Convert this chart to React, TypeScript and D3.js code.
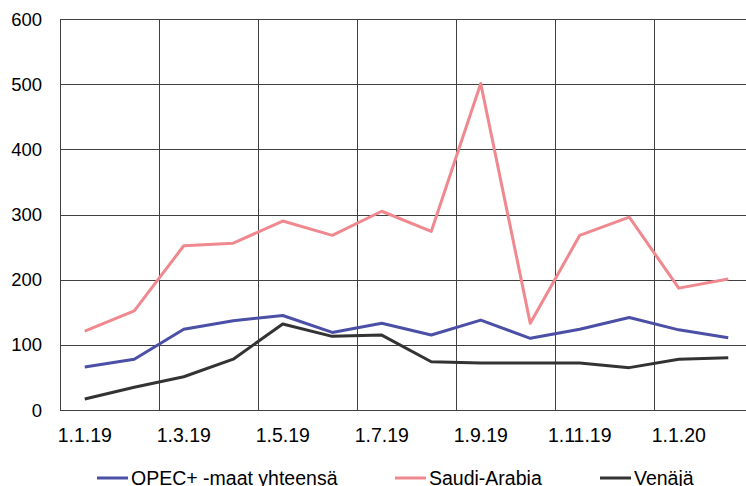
import { useEffect, useRef } from 'react'
import * as d3 from 'd3'

// months Jan 2019 .. Feb 2020
const months = ['1.1.19', '1.2.19', '1.3.19', '1.4.19', '1.5.19', '1.6.19', '1.7.19', '1.8.19',
  '1.9.19', '1.10.19', '1.11.19', '1.12.19', '1.1.20', '1.2.20']
const tickLabels = ['1.1.19', '1.3.19', '1.5.19', '1.7.19', '1.9.19', '1.11.19', '1.1.20']
const yTicks = [0, 100, 200, 300, 400, 500, 600]

const opecTotal = [66, 78, 124, 137, 145, 119, 133, 115, 138, 110, 124, 142, 123, 111]
const saudi = [121, 152, 252, 256, 290, 268, 305, 274, 501, 133, 268, 296, 187, 201]
const russia = [17, 35, 51, 78, 132, 113, 115, 74, 72, 72, 72, 65, 78, 80]

const series = [
  { name: 'OPEC+ -maat yhteensä', values: opecTotal, color: '#4b4fa6' },
  { name: 'Saudi-Arabia', values: saudi, color: '#f0888f' },
  { name: 'Venäjä', values: russia, color: '#333333' },
]

export default function App() {
  const svgRef = useRef<SVGSVGElement>(null)
  const width = 746
  const height = 486

  useEffect(() => {
    if (!svgRef.current) return
    const svg = d3.select(svgRef.current)
    svg.selectAll('*').remove()

    const left = 60
    const top = 19
    const bottom = 410
    const step = 49.5

    const x = d3.scaleBand<string>()
      .domain(months)
      .range([left, left + step * months.length])
      .padding(0)

    const y = d3.scaleLinear().domain([0, 600]).range([bottom, top])

    const font = 'Liberation Sans, Arial, sans-serif'

    // horizontal grid
    svg.append('g')
      .selectAll('line')
      .data(yTicks)
      .enter().append('line')
      .attr('x1', left)
      .attr('x2', width)
      .attr('y1', d => Math.round(y(d)) + 0.5)
      .attr('y2', d => Math.round(y(d)) + 0.5)
      .attr('stroke', '#404040')
      .attr('stroke-width', 1)

    // vertical grid every 2 months
    const vLines = months.filter((_, i) => i % 2 === 0)
    svg.append('g')
      .selectAll('line')
      .data(vLines)
      .enter().append('line')
      .attr('x1', d => Math.round(x(d)!) + 0.5)
      .attr('x2', d => Math.round(x(d)!) + 0.5)
      .attr('y1', top)
      .attr('y2', bottom)
      .attr('stroke', '#404040')
      .attr('stroke-width', 1)

    // y tick labels
    svg.append('g')
      .selectAll('text')
      .data(yTicks)
      .enter().append('text')
      .attr('x', 42)
      .attr('y', d => y(d))
      .attr('dy', '0.36em')
      .attr('text-anchor', 'end')
      .style('font-family', font)
      .style('font-size', '18.5px')
      .attr('fill', '#000')
      .text(d => d)

    // x tick labels
    svg.append('g')
      .selectAll('text')
      .data(tickLabels)
      .enter().append('text')
      .attr('x', d => x(d)! + x.bandwidth() / 2)
      .attr('y', 442)
      .attr('text-anchor', 'middle')
      .style('font-family', font)
      .style('font-size', '19.5px')
      .attr('fill', '#000')
      .text(d => d)

    const line = d3.line<number>()
      .x((_, i) => x(months[i])! + x.bandwidth() / 2)
      .y(d => y(d))

    series.forEach(s => {
      svg.append('path')
        .datum(s.values)
        .attr('fill', 'none')
        .attr('stroke', s.color)
        .attr('stroke-width', 3)
        .attr('stroke-linejoin', 'round')
        .attr('d', line)
    })

    // legend
    const legendX = [97, 395, 600]
    const legend = svg.append('g')
    series.forEach((s, i) => {
      legend.append('line')
        .attr('x1', legendX[i])
        .attr('x2', legendX[i] + 31)
        .attr('y1', 478)
        .attr('y2', 478)
        .attr('stroke', s.color)
        .attr('stroke-width', 3)
      legend.append('text')
        .attr('x', legendX[i] + 34)
        .attr('y', 485)
        .style('font-family', font)
        .style('font-size', '19.5px')
        .attr('fill', '#000')
        .text(s.name)
    })
  }, [])

  return (
    <svg
      ref={svgRef}
      width={width}
      height={height}
      style={{ position: 'absolute', left: 0, top: 0, background: '#fff' }}
    />
  )
}
